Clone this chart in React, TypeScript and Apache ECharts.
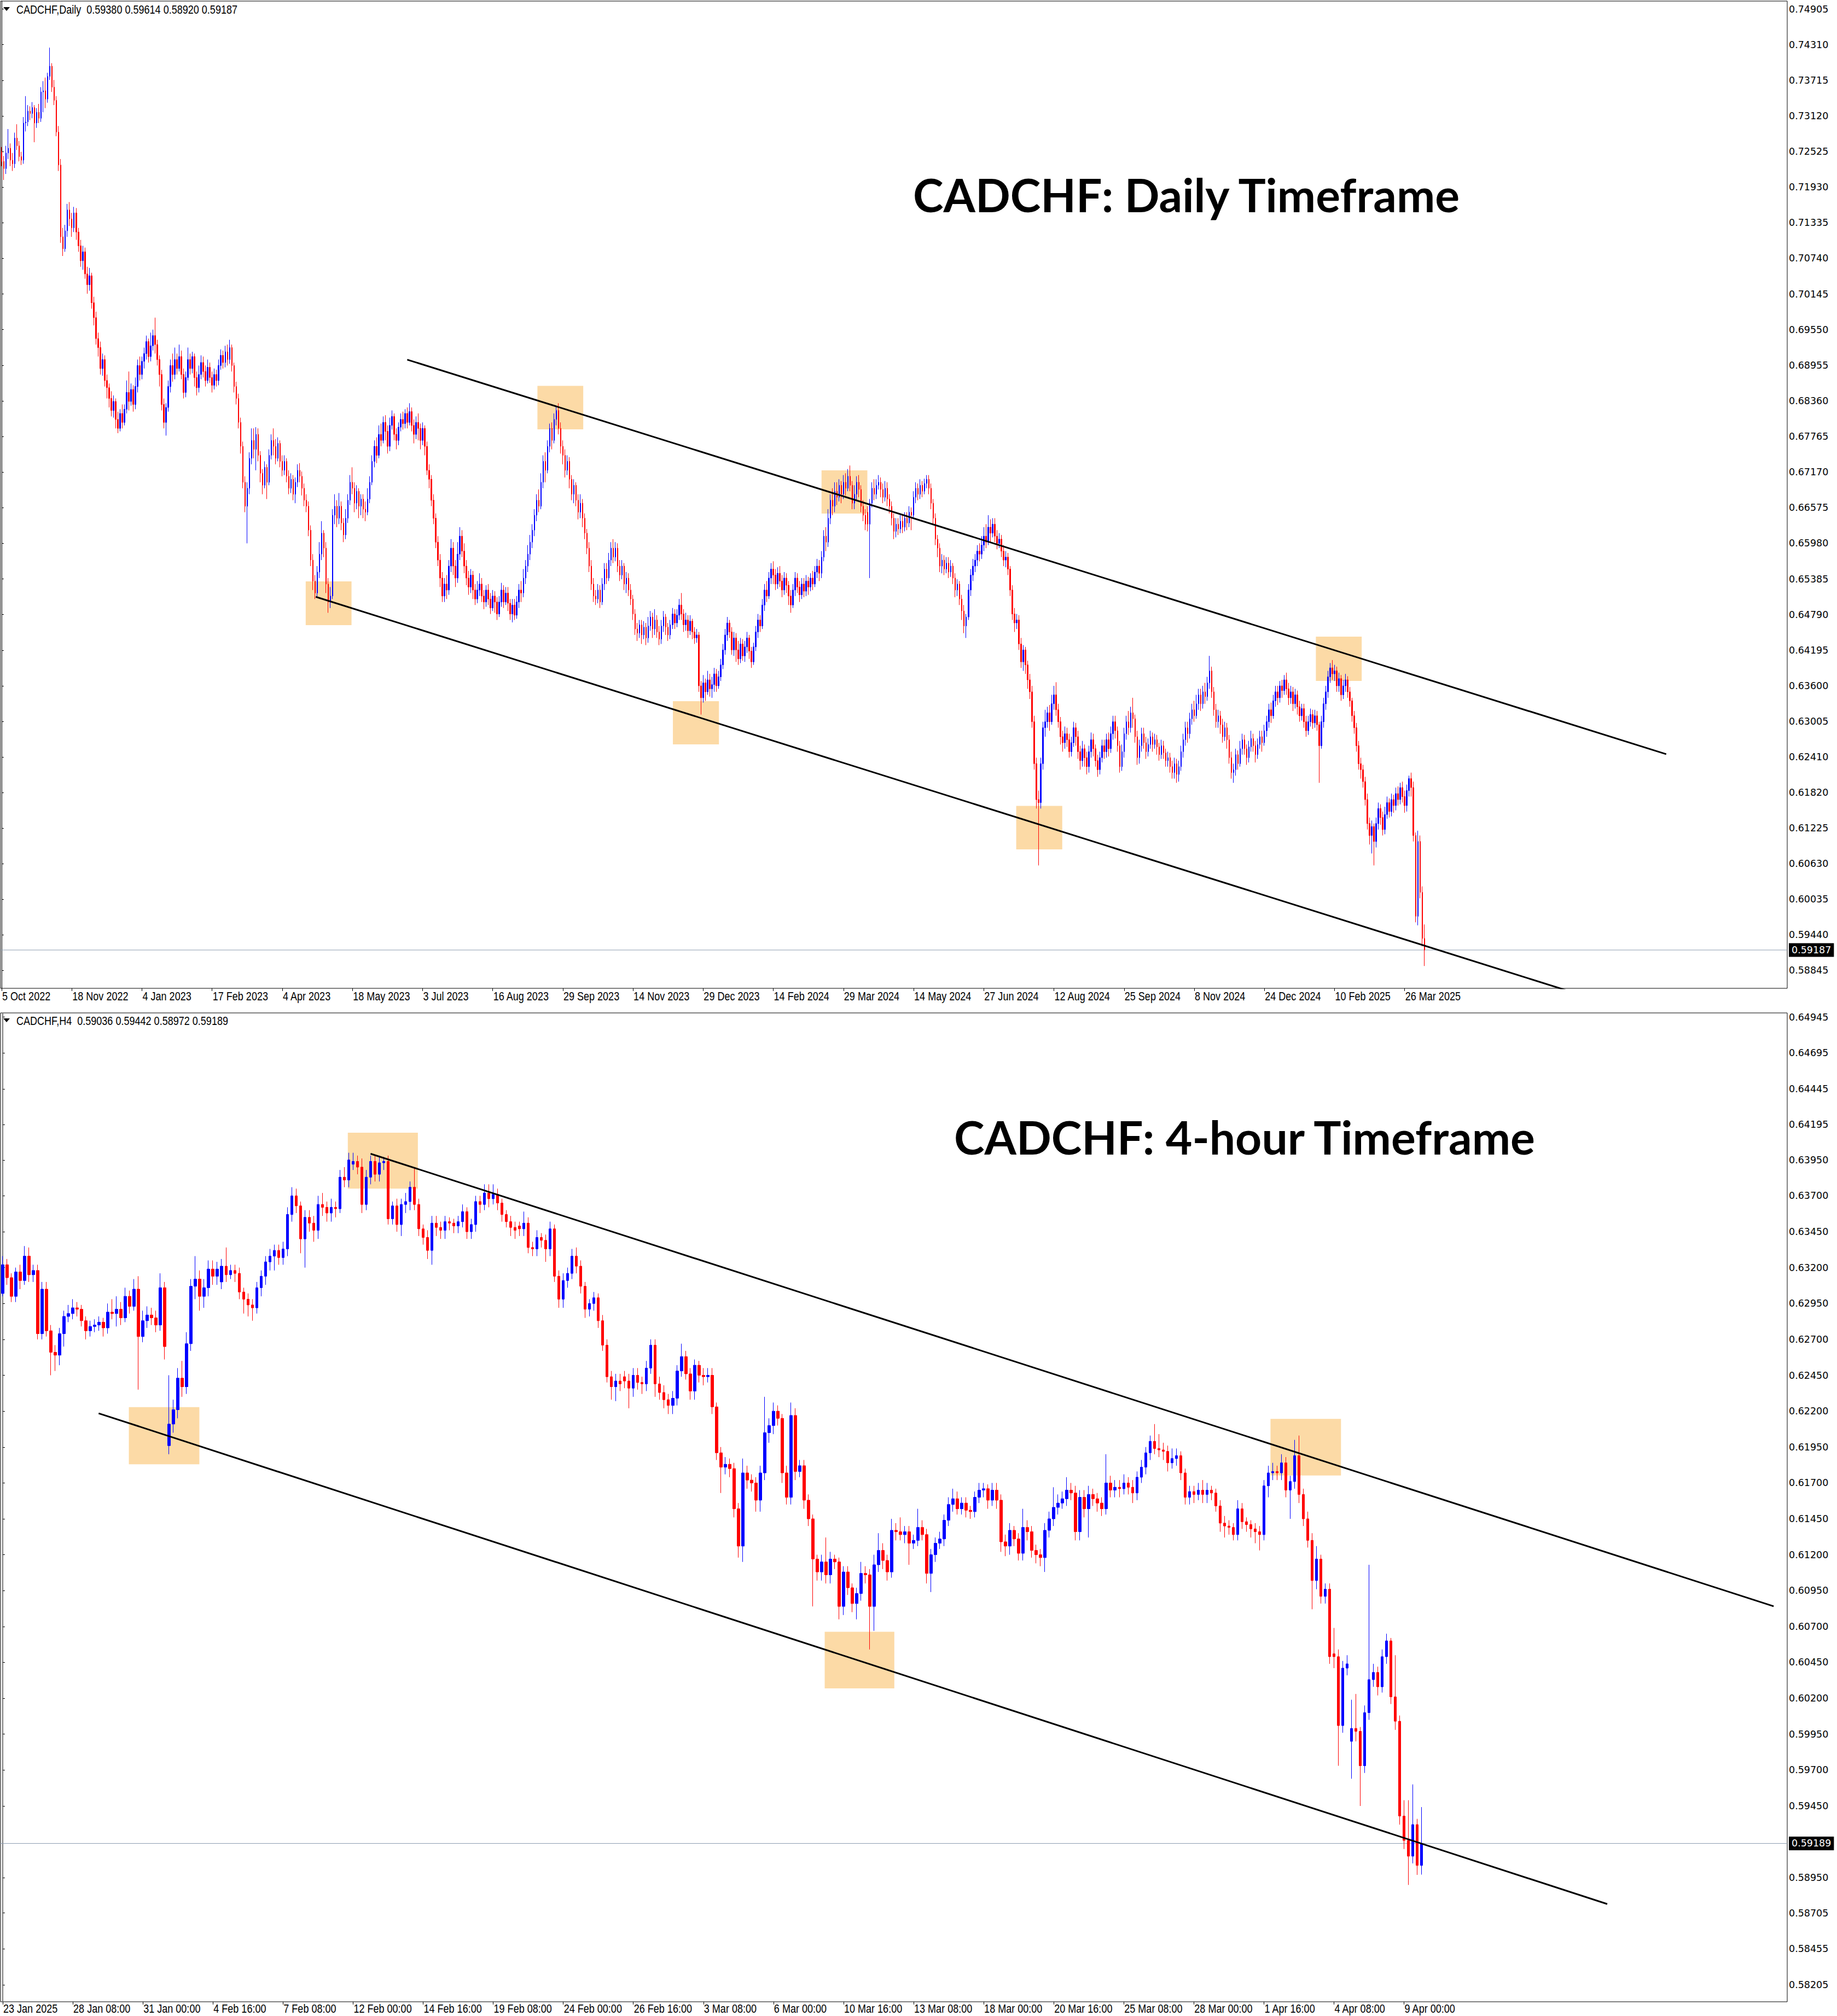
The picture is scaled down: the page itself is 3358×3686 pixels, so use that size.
import React, { useEffect, useRef } from "react";
import * as echarts from "echarts";

// ---------------- tick labels ----------------
const dailyPriceTicks = [0.74905, 0.7431, 0.73715, 0.7312, 0.72525, 0.7193, 0.71335, 0.7074, 0.70145, 0.6955, 0.68955, 0.6836, 0.67765, 0.6717, 0.66575, 0.6598, 0.65385, 0.6479, 0.64195, 0.636, 0.63005, 0.6241, 0.6182, 0.61225, 0.6063, 0.60035, 0.5944, 0.58845];
const h4PriceTicks = [0.64945, 0.64695, 0.64445, 0.64195, 0.6395, 0.637, 0.6345, 0.632, 0.6295, 0.627, 0.6245, 0.622, 0.6195, 0.617, 0.6145, 0.612, 0.6095, 0.607, 0.6045, 0.602, 0.5995, 0.597, 0.5945, 0.5895, 0.58705, 0.58455, 0.58205];
const dailyDateLabels = ["5 Oct 2022", "18 Nov 2022", "4 Jan 2023", "17 Feb 2023", "4 Apr 2023", "18 May 2023", "3 Jul 2023", "16 Aug 2023", "29 Sep 2023", "14 Nov 2023", "29 Dec 2023", "14 Feb 2024", "29 Mar 2024", "14 May 2024", "27 Jun 2024", "12 Aug 2024", "25 Sep 2024", "8 Nov 2024", "24 Dec 2024", "10 Feb 2025", "26 Mar 2025"];
const h4DateLabels = ["23 Jan 2025", "28 Jan 08:00", "31 Jan 00:00", "4 Feb 16:00", "7 Feb 08:00", "12 Feb 00:00", "14 Feb 16:00", "19 Feb 08:00", "24 Feb 00:00", "26 Feb 16:00", "3 Mar 08:00", "6 Mar 00:00", "10 Mar 16:00", "13 Mar 08:00", "18 Mar 00:00", "20 Mar 16:00", "25 Mar 08:00", "28 Mar 00:00", "1 Apr 16:00", "4 Apr 08:00", "9 Apr 00:00"];
const DAILY_LABEL_STEP = 32;
const H4_LABEL_STEP = 16;

// ---------------- daily candles [open, close, low, high] in 1e-4 units ----------------
const dailyBars2022 = [
[7252,7236,7228,7260],[7236,7224,7205,7245],[7224,7250,7215,7262],[7250,7258,7240,7290],[7258,7238,7228,7266],[7238,7232,7220,7250],[7232,7275,7225,7284],[7275,7262,7255,7298],[7262,7244,7236,7270],[7244,7238,7230,7252],
[7238,7300,7232,7310],[7300,7302,7286,7345],[7302,7320,7295,7330],[7320,7316,7305,7328],[7316,7326,7308,7335],[7326,7300,7268,7330],[7300,7318,7292,7325],[7318,7308,7300,7332],[7308,7352,7302,7360],[7352,7354,7318,7370],
[7354,7340,7325,7376],[7340,7378,7334,7384],[7378,7395,7372,7426],[7395,7360,7352,7400],[7360,7338,7330,7372],[7338,7285,7278,7345],[7285,7230,7220,7295],[7230,7110,7100,7240],[7110,7090,7078,7125],[7090,7120,7085,7130],
[7120,7155,7110,7165],[7155,7140,7128,7168],[7140,7125,7110,7150],[7125,7150,7118,7160],[7150,7118,7105,7158],[7118,7095,7085,7125],[7095,7070,7060,7105],[7070,7085,7055,7095],[7085,7048,7040,7092],[7048,7030,7015,7060],
[7030,7045,7020,7058],[7045,7000,6990,7050],[7000,6975,6962,7010],[6975,6940,6930,6985],[6940,6925,6910,6950],[6925,6890,6880,6935],[6890,6905,6878,6915],[6905,6870,6860,6912],[6870,6858,6840,6880],[6858,6840,6825,6865],
[6840,6820,6810,6852],[6820,6835,6808,6845],[6835,6805,6790,6840],[6805,6790,6782,6818],[6790,6815,6785,6822],[6815,6800,6790,6830],[6800,6822,6795,6830],[6822,6850,6815,6870],[6850,6835,6820,6885],[6835,6855,6828,6865],
[6855,6830,6818,6862],[6830,6860,6822,6875],[6860,6895,6850,6905],[6895,6880,6870,6910],
];
const dailyBars2023 = [
[6880,6902,6872,6910],[6902,6915,6890,6925],[6915,6935,6905,6945],[6935,6910,6900,6940],[6910,6928,6902,6950],[6928,6945,6920,6955],[6945,6930,6915,6975],[6930,6905,6895,6938],[6905,6880,6860,6912],[6880,6830,6820,6888],
[6830,6800,6790,6840],[6800,6825,6778,6832],[6825,6860,6818,6870],[6860,6895,6850,6905],[6895,6880,6868,6915],[6880,6905,6872,6925],[6905,6890,6880,6915],[6890,6910,6885,6930],[6910,6880,6872,6920],[6880,6850,6840,6890],
[6850,6875,6842,6885],[6875,6905,6870,6925],[6905,6890,6880,6915],[6890,6910,6882,6918],[6910,6875,6860,6915],[6875,6858,6845,6885],[6858,6880,6850,6895],[6880,6900,6872,6912],[6900,6885,6875,6910],[6885,6870,6860,6895],
[6870,6892,6865,6905],[6892,6875,6866,6900],[6875,6862,6850,6885],[6862,6880,6855,6890],[6880,6870,6860,6888],[6870,6895,6862,6905],[6895,6912,6888,6922],[6912,6900,6890,6920],[6900,6918,6892,6928],[6918,6905,6895,6930],
[6905,6925,6898,6938],[6925,6895,6885,6930],[6895,6860,6850,6900],[6860,6840,6830,6868],[6840,6800,6790,6848],[6800,6760,6748,6808],[6760,6700,6690,6768],[6700,6660,6650,6710],[6660,6690,6598,6700],[6690,6740,6680,6750],
[6740,6770,6730,6790],[6770,6755,6740,6790],[6755,6780,6720,6792],[6780,6745,6735,6790],[6745,6715,6700,6752],[6715,6695,6680,6722],[6695,6725,6690,6735],[6725,6700,6672,6730],[6700,6745,6695,6755],[6745,6770,6738,6780],
[6770,6760,6745,6790],[6760,6740,6730,6772],[6740,6765,6735,6775],[6765,6735,6725,6770],[6735,6720,6710,6745],[6720,6735,6712,6745],[6735,6710,6700,6740],[6710,6690,6680,6720],[6690,6705,6682,6715],[6705,6680,6670,6712],
[6680,6700,6665,6708],[6700,6720,6692,6730],[6720,6710,6700,6732],[6710,6690,6678,6718],[6690,6670,6660,6698],[6670,6660,6650,6680],[6660,6620,6610,6668],[6620,6570,6560,6628],[6570,6535,6520,6580],[6535,6515,6505,6545],
[6515,6550,6508,6560],[6550,6580,6540,6600],[6580,6615,6570,6635],[6615,6590,6575,6620],[6590,6530,6515,6600],[6530,6500,6482,6540],[6500,6510,6490,6525],[6510,6645,6505,6655],[6645,6660,6630,6680],[6660,6640,6625,6670],
[6640,6660,6630,6682],[6660,6632,6620,6668],[6632,6612,6600,6640],[6612,6640,6605,6655],[6640,6670,6632,6680],[6670,6700,6662,6712],[6700,6690,6680,6725],[6690,6665,6650,6700],[6665,6685,6655,6695],[6685,6660,6640,6690],
[6660,6672,6645,6680],[6672,6655,6640,6680],[6655,6650,6635,6668],[6650,6672,6645,6690],[6672,6700,6665,6710],[6700,6735,6695,6745],[6735,6760,6725,6770],[6760,6745,6732,6775],[6745,6780,6740,6795],[6780,6770,6760,6798],
[6770,6800,6765,6810],[6800,6785,6770,6812],[6785,6760,6748,6795],[6760,6795,6752,6808],[6795,6810,6788,6820],[6810,6780,6770,6815],[6780,6770,6755,6790],[6770,6792,6762,6800],[6792,6805,6785,6815],[6805,6798,6788,6818],
[6798,6815,6790,6822],[6815,6800,6790,6825],[6800,6818,6795,6832],[6818,6795,6785,6825],[6795,6780,6765,6805],[6780,6800,6772,6810],[6800,6790,6770,6815],[6790,6770,6755,6798],[6770,6790,6762,6800],[6790,6760,6745,6795],
[6760,6720,6712,6768],[6720,6705,6690,6730],[6705,6670,6660,6712],[6670,6640,6630,6680],[6640,6600,6590,6648],[6600,6570,6560,6610],[6570,6540,6525,6580],[6540,6510,6500,6550],[6510,6530,6500,6540],[6530,6520,6505,6545],
[6520,6560,6512,6570],[6560,6590,6550,6605],[6590,6560,6545,6600],[6560,6540,6525,6570],[6540,6580,6532,6600],[6580,6610,6570,6625],[6610,6585,6575,6620],[6585,6560,6548,6598],[6560,6540,6528,6570],[6540,6525,6512,6552],
[6525,6545,6515,6555],[6545,6520,6505,6552],[6520,6505,6495,6530],[6505,6520,6498,6535],[6520,6530,6510,6548],[6530,6510,6500,6540],[6510,6500,6488,6520],[6500,6520,6492,6528],[6520,6505,6495,6530],[6505,6490,6480,6515],
[6490,6510,6485,6520],[6510,6500,6482,6518],[6500,6480,6470,6508],[6480,6500,6475,6510],[6500,6520,6492,6532],[6520,6500,6490,6528],[6500,6515,6495,6525],[6515,6498,6485,6525],[6498,6480,6470,6505],[6480,6495,6466,6505],
[6495,6478,6470,6505],[6478,6500,6472,6510],[6500,6520,6490,6530],[6520,6515,6500,6535],[6515,6540,6508,6555],[6540,6560,6530,6570],[6560,6580,6550,6595],[6580,6600,6570,6612],[6600,6620,6590,6630],[6620,6645,6610,6655],
[6645,6670,6635,6680],[6670,6660,6650,6688],[6660,6700,6655,6715],[6700,6735,6690,6745],[6735,6720,6700,6750],[6720,6760,6715,6770],[6760,6790,6750,6798],[6790,6770,6755,6800],[6770,6805,6765,6815],[6805,6820,6795,6828],
[6820,6790,6780,6832],[6790,6760,6748,6800],[6760,6745,6730,6770],[6745,6720,6708,6755],[6720,6735,6712,6745],[6735,6705,6690,6742],[6705,6680,6670,6712],[6680,6695,6665,6705],[6695,6670,6660,6700],[6670,6650,6638,6680],
[6650,6665,6640,6680],[6665,6640,6625,6672],[6640,6615,6605,6648],[6615,6590,6580,6622],[6590,6560,6550,6600],[6560,6530,6520,6570],[6530,6510,6500,6540],[6510,6505,6495,6520],[6505,6520,6498,6530],[6520,6500,6490,6528],
[6500,6530,6495,6540],[6530,6555,6520,6565],[6555,6540,6530,6565],[6540,6570,6535,6582],[6570,6590,6560,6600],[6590,6575,6565,6605],[6575,6590,6568,6600],[6590,6560,6550,6598],[6560,6545,6535,6570],[6545,6560,6538,6570],
[6560,6530,6520,6565],[6530,6540,6515,6550],[6540,6520,6510,6548],[6520,6505,6495,6530],[6505,6480,6470,6512],[6480,6455,6445,6488],[6455,6448,6435,6465],[6448,6462,6440,6470],[6462,6445,6430,6470],[6445,6458,6438,6468],
[6458,6440,6428,6465],[6440,6460,6432,6475],[6460,6475,6452,6485],[6475,6455,6440,6482],[6455,6470,6445,6488],[6470,6450,6440,6478],[6450,6438,6428,6460],[6438,6460,6430,6470],[6460,6475,6450,6485],[6475,6458,6445,6480],
[6458,6445,6435,6465],[6445,6462,6438,6470],[6462,6480,6455,6490],[6480,6465,6455,6488],[6465,6478,6458,6488],[6478,6495,6470,6505],[6495,6480,6470,6515],[6480,6462,6450,6488],[6462,6470,6452,6482],[6470,6452,6440,6478],
[6452,6468,6445,6478],[6468,6450,6438,6472],[6450,6440,6430,6458],[6440,6445,6432,6455],
];
const dailyBars2024 = [
[6445,6360,6350,6450],[6360,6340,6312,6368],[6340,6365,6332,6378],[6365,6350,6335,6372],[6350,6370,6345,6385],[6370,6355,6342,6380],[6355,6362,6340,6375],[6362,6380,6350,6390],[6380,6360,6350,6388],[6360,6375,6355,6385],
[6375,6395,6368,6405],[6395,6420,6388,6430],[6420,6445,6412,6455],[6445,6465,6435,6475],[6465,6450,6440,6470],[6450,6420,6412,6458],[6420,6440,6410,6450],[6440,6420,6400,6448],[6420,6405,6395,6435],[6405,6430,6398,6440],
[6430,6410,6402,6438],[6410,6425,6400,6435],[6425,6440,6415,6450],[6440,6418,6405,6445],[6418,6400,6390,6425],[6400,6425,6395,6432],[6425,6450,6418,6460],[6450,6470,6440,6480],[6470,6460,6450,6478],[6460,6495,6455,6505],
[6495,6520,6485,6530],[6520,6510,6500,6535],[6510,6540,6505,6550],[6540,6555,6530,6565],[6555,6545,6530,6568],[6545,6530,6520,6555],[6530,6548,6522,6558],[6548,6535,6525,6560],[6535,6520,6508,6545],[6520,6540,6512,6550],
[6540,6528,6515,6548],[6528,6510,6495,6535],[6510,6495,6482,6520],[6495,6520,6490,6530],[6520,6540,6510,6550],[6540,6525,6515,6548],[6525,6512,6500,6535],[6512,6530,6505,6540],[6530,6518,6508,6540],[6518,6535,6510,6545],
[6535,6525,6512,6542],[6525,6540,6518,6548],[6540,6530,6520,6552],[6530,6550,6525,6560],[6550,6560,6540,6572],[6560,6548,6535,6570],[6548,6575,6540,6585],[6575,6610,6568,6620],[6610,6600,6585,6625],[6600,6640,6592,6655],
[6640,6670,6630,6680],[6670,6660,6645,6690],[6660,6685,6650,6700],[6685,6675,6662,6700],[6675,6695,6668,6705],[6695,6680,6665,6702],[6680,6700,6672,6712],[6700,6690,6678,6715],[6690,6710,6685,6722],[6710,6695,6685,6728],
[6695,6665,6655,6702],[6665,6680,6655,6695],[6680,6700,6670,6710],[6700,6688,6675,6712],[6688,6660,6650,6695],[6660,6645,6635,6670],[6645,6630,6620,6655],[6650,6630,6618,6660],[6630,6665,6540,6672],[6665,6690,6658,6700],
[6690,6680,6670,6705],[6680,6695,6672,6705],[6695,6700,6688,6712],[6700,6688,6675,6708],[6688,6675,6665,6698],[6675,6690,6668,6702],[6690,6672,6660,6700],[6672,6660,6648,6680],[6660,6640,6628,6668],[6640,6618,6605,6648],
[6618,6630,6608,6640],[6630,6622,6612,6640],[6622,6635,6615,6645],[6635,6625,6615,6645],[6625,6640,6618,6650],[6640,6632,6620,6650],[6632,6650,6625,6660],[6650,6645,6620,6658],[6645,6675,6640,6685],[6675,6690,6665,6700],
[6690,6680,6670,6698],[6680,6695,6672,6705],[6695,6685,6675,6702],[6685,6698,6680,6706],[6698,6705,6690,6712],[6705,6690,6680,6712],[6690,6665,6655,6698],[6665,6640,6630,6672],[6640,6605,6595,6648],[6605,6590,6575,6612],
[6590,6560,6550,6598],[6560,6570,6548,6580],[6570,6555,6545,6578],[6555,6565,6548,6575],[6565,6550,6540,6575],[6550,6560,6542,6570],[6560,6540,6530,6565],[6540,6520,6508,6548],[6520,6530,6510,6538],[6530,6505,6495,6535],
[6505,6485,6470,6512],[6485,6460,6448,6495],[6460,6475,6440,6480],[6475,6520,6470,6530],[6520,6545,6510,6555],[6545,6560,6535,6572],[6560,6570,6550,6580],[6570,6585,6560,6595],[6585,6580,6568,6598],[6580,6595,6572,6610],
[6595,6610,6585,6625],[6610,6600,6590,6630],[6600,6625,6595,6645],[6625,6615,6600,6638],[6615,6630,6608,6640],[6630,6610,6600,6640],[6610,6598,6588,6620],[6598,6605,6590,6615],[6605,6585,6575,6612],[6585,6570,6560,6595],
[6570,6575,6558,6585],[6575,6555,6545,6582],[6555,6520,6510,6560],[6520,6480,6470,6528],[6480,6465,6450,6490],[6465,6470,6455,6480],[6470,6430,6420,6478],[6430,6400,6390,6440],[6400,6420,6385,6428],[6420,6395,6380,6425],
[6395,6370,6355,6402],[6370,6350,6338,6380],[6350,6300,6290,6360],[6300,6230,6220,6310],[6230,6170,6155,6240],[6170,6165,6060,6185],[6165,6230,6155,6240],[6230,6290,6220,6300],[6290,6300,6275,6320],[6300,6315,6290,6325],
[6315,6300,6285,6328],[6300,6330,6295,6345],[6330,6345,6320,6360],[6345,6320,6310,6366],[6320,6300,6290,6330],[6300,6275,6262,6308],[6275,6265,6250,6285],[6265,6280,6255,6292],[6280,6270,6258,6290],[6270,6250,6240,6280],
[6250,6265,6242,6275],[6265,6290,6258,6300],[6290,6275,6260,6298],[6275,6250,6238,6285],[6250,6235,6220,6260],[6235,6255,6225,6268],[6255,6240,6225,6262],[6240,6225,6212,6250],[6225,6250,6215,6260],[6250,6270,6240,6282],
[6270,6255,6242,6280],[6255,6235,6225,6262],[6235,6220,6208,6245],[6220,6240,6212,6250],[6240,6260,6232,6270],[6260,6250,6238,6270],[6250,6270,6240,6280],[6270,6255,6242,6282],[6255,6280,6248,6292],[6280,6300,6270,6310],
[6300,6285,6272,6310],[6285,6260,6250,6292],[6260,6225,6215,6268],[6225,6250,6218,6262],[6250,6280,6240,6290],[6280,6300,6270,6310],[6300,6290,6278,6318],[6290,6315,6282,6325],[6315,6305,6290,6340],[6305,6275,6265,6312],
[6275,6240,6228,6285],[6240,6260,6230,6270],[6260,6280,6250,6290],[6280,6265,6255,6290],[6265,6250,6238,6275],[6250,6262,6242,6272],[6262,6275,6255,6285],[6275,6262,6250,6282],[6262,6270,6255,6280],[6270,6258,6245,6278],
[6258,6245,6235,6265],[6245,6260,6238,6270],[6260,6248,6238,6268],[6248,6235,6225,6255],[6235,6240,6225,6250],[6240,6225,6215,6248],[6225,6215,6205,6235],[6215,6230,6205,6240],[6230,6212,6198,6238],[6212,6225,6200,6235],
[6225,6250,6218,6260],[6250,6270,6240,6280],[6270,6290,6260,6300],[6290,6280,6265,6300],[6280,6305,6272,6315],[6305,6320,6295,6330],[6320,6310,6300,6335],[6310,6330,6305,6345],[6330,6345,6320,6355],[6345,6330,6318,6355],
[6330,6350,6322,6360],[6350,6342,6330,6365],[6342,6365,6335,6375],[6365,6385,6355,6410],[6385,6350,6340,6392],[6350,6320,6310,6358],[6320,6300,6290,6330],[6300,6310,6290,6320],[6310,6295,6280,6318],[6295,6275,6265,6305],
[6275,6290,6268,6300],[6290,6270,6255,6298],[6270,6240,6230,6278],[6240,6215,6205,6250],[6215,6220,6198,6230],[6220,6245,6210,6255],[6245,6230,6220,6252],
];
const dailyBars2025 = [
[6230,6255,6225,6268],[6255,6270,6245,6280],[6270,6255,6245,6278],[6255,6240,6228,6262],[6240,6258,6232,6268],[6258,6272,6250,6285],[6272,6260,6250,6280],[6260,6245,6232,6268],[6245,6262,6238,6272],[6262,6275,6255,6285],
[6275,6265,6250,6285],[6265,6285,6260,6295],[6285,6300,6275,6310],[6300,6320,6290,6330],[6320,6310,6298,6332],[6310,6335,6305,6345],[6335,6350,6325,6360],[6350,6340,6328,6360],[6340,6360,6332,6368],[6360,6352,6340,6370],
[6352,6370,6345,6378],[6370,6355,6345,6382],[6355,6340,6328,6365],[6340,6350,6330,6360],[6350,6330,6318,6358],[6330,6345,6322,6355],[6345,6325,6312,6352],[6325,6310,6300,6335],[6310,6322,6302,6330],[6322,6300,6290,6330],
[6300,6285,6275,6310],[6285,6300,6278,6310],[6300,6312,6292,6322],[6312,6298,6288,6320],[6298,6310,6290,6320],[6310,6295,6285,6318],[6295,6260,6198,6300],[6260,6300,6255,6310],[6300,6330,6290,6340],[6330,6350,6320,6360],
[6350,6375,6340,6385],[6375,6390,6365,6398],[6390,6380,6370,6403],[6380,6385,6368,6395],[6385,6360,6350,6392],[6360,6372,6350,6382],[6372,6345,6335,6378],[6345,6360,6338,6370],[6360,6370,6350,6380],[6370,6350,6340,6376],
[6350,6335,6325,6358],[6335,6310,6300,6340],[6310,6290,6280,6318],[6290,6260,6250,6298],[6260,6230,6220,6268],[6230,6220,6205,6240],[6220,6200,6190,6228],[6200,6170,6160,6208],[6170,6130,6120,6180],[6130,6110,6095,6140],
[6110,6125,6080,6135],[6125,6100,6060,6130],[6100,6130,6090,6140],[6130,6155,6120,6165],[6155,6140,6128,6162],[6140,6120,6110,6150],[6120,6145,6112,6158],[6145,6165,6138,6175],[6165,6150,6140,6172],[6150,6170,6142,6180],
[6170,6160,6148,6178],[6160,6180,6152,6190],[6180,6170,6160,6192],[6170,6190,6162,6198],[6190,6175,6165,6200],[6175,6160,6148,6185],[6160,6185,6150,6195],[6185,6205,6175,6210],[6205,6190,6175,6215],[6190,6110,6100,6200],
[6110,5975,5965,6115],[5975,6100,5960,6118],[6100,6015,6005,6110],[6015,5938,5925,6025],[5938,5918.7,5892,5961.4],
];

// ---------------- H4 candles [open, close, low, high] in 1e-4 units ----------------
const h4BarsJanFeb = [
[6302,6322,6300,6328],[6322,6313,6308,6326],[6313,6300,6296,6316],[6300,6317,6296,6320],[6317,6311,6305,6322],[6311,6328,6308,6335],[6328,6315,6310,6334],[6315,6318,6310,6322],[6318,6274,6270,6322],[6274,6305,6270,6310],
[6305,6276,6272,6310],[6276,6261,6245,6280],[6261,6259,6248,6266],[6259,6274,6252,6278],[6274,6286,6265,6290],[6286,6288,6282,6294],[6288,6292,6284,6298],[6292,6291,6286,6296],[6291,6283,6279,6294],[6283,6276,6270,6286],
[6276,6279,6272,6283],[6279,6280,6275,6284],[6280,6282,6276,6286],[6282,6278,6272,6285],[6278,6289,6274,6295],[6289,6288,6284,6298],[6288,6291,6279,6300],[6291,6285,6280,6296],[6285,6300,6282,6306],[6300,6293,6288,6304],
[6293,6305,6290,6312],[6305,6272,6235,6314],[6272,6283,6268,6290],[6283,6287,6278,6293],[6287,6285,6280,6292],[6285,6280,6275,6290],[6280,6306,6276,6316],[6306,6265,6256,6310],[6196,6211,6190,6245],[6211,6221,6205,6228],
[6221,6243,6215,6250],[6243,6237,6230,6255],[6237,6267,6232,6275],[6267,6307,6262,6312],[6307,6312,6298,6328],[6312,6300,6290,6318],[6300,6306,6292,6312],[6306,6319,6300,6325],[6319,6314,6308,6325],[6314,6319,6308,6324],
[6310,6321,6305,6326],[6321,6315,6310,6334],[6315,6318,6312,6322],[6318,6316,6310,6322],[6316,6303,6298,6320],[6303,6298,6288,6306],[6298,6294,6286,6302],[6294,6292,6283,6298],[6292,6306,6288,6310],[6306,6314,6300,6318],
[6314,6324,6308,6328],[6324,6328,6318,6333],[6328,6332,6318,6336],[6332,6327,6322,6336],[6327,6333,6322,6338],[6333,6357,6328,6362],[6357,6370,6352,6376],[6370,6363,6358,6375],[6363,6340,6330,6366],[6340,6355,6320,6360],
[6355,6351,6345,6360],[6351,6346,6338,6356],[6346,6364,6340,6370],[6364,6362,6356,6372],[6362,6358,6352,6366],[6358,6362,6352,6368],[6362,6361,6355,6366],[6361,6383,6358,6388],[6383,6381,6376,6390],[6381,6395,6376,6400],
[6392,6394,6388,6400],[6394,6390,6385,6398],[6390,6364,6358,6396],[6364,6383,6360,6388],[6383,6394,6378,6398],[6394,6385,6380,6398],[6385,6393,6380,6398],[6393,6394,6388,6397],[6394,6354,6350,6398],[6354,6363,6350,6366],
[6363,6350,6345,6368],[6350,6364,6342,6368],[6364,6366,6358,6372],[6366,6376,6360,6380],[6376,6364,6360,6389],[6364,6347,6342,6368],[6347,6341,6336,6350],[6341,6332,6326,6346],[6332,6351,6322,6356],[6351,6348,6342,6356],
[6348,6346,6340,6352],[6346,6352,6340,6356],[6352,6351,6346,6355],[6351,6349,6344,6354],[6349,6352,6344,6356],[6352,6359,6348,6364],[6359,6345,6340,6362],[6345,6350,6340,6354],[6350,6366,6345,6370],[6366,6364,6358,6370],
[6364,6372,6360,6378],[6372,6368,6362,6378],[6368,6371,6364,6378],[6371,6365,6360,6375],[6365,6357,6352,6368],[6357,6352,6348,6360],[6352,6348,6342,6356],[6348,6346,6340,6352],[6349,6347,6342,6352],[6347,6351,6342,6359],
];
const h4BarsMar = [
[6351,6334,6330,6355],[6334,6333,6328,6338],[6333,6341,6328,6346],[6341,6339,6334,6344],[6339,6333,6324,6343],[6333,6347,6328,6352],[6347,6314,6310,6350],[6314,6298,6292,6318],[6298,6311,6292,6316],[6311,6316,6306,6320],
[6316,6328,6312,6333],[6328,6321,6316,6334],[6321,6307,6302,6325],[6307,6291,6285,6310],[6291,6295,6286,6298],[6295,6299,6290,6303],[6299,6283,6278,6302],[6283,6266,6262,6287],[6266,6244,6240,6270],[6244,6237,6228,6248],
[6237,6241,6227,6246],[6241,6239,6234,6246],[6244,6241,6236,6248],[6241,6236,6222,6246],[6236,6245,6230,6250],[6245,6240,6235,6250],[6240,6239,6232,6244],[6239,6250,6234,6255],[6250,6266,6246,6270],[6266,6239,6230,6270],
[6239,6233,6228,6244],[6233,6228,6222,6238],[6228,6224,6218,6232],[6224,6229,6218,6234],[6229,6248,6224,6252],[6248,6258,6244,6267],[6258,6246,6242,6262],[6246,6234,6228,6250],[6234,6252,6228,6256],[6252,6245,6240,6255],
[6245,6244,6238,6250],[6244,6245,6240,6250],[6245,6223,6218,6250],[6223,6191,6186,6226],[6191,6181,6163,6195],[6181,6183,6176,6188],[6183,6180,6174,6187],[6180,6152,6146,6184],[6152,6126,6118,6156],[6126,6177,6115,6187],
[6177,6172,6166,6182],[6172,6170,6164,6176],[6170,6158,6150,6174],[6158,6177,6150,6182],[6177,6205,6172,6230],[6205,6210,6198,6215],[6210,6220,6204,6226],[6220,6215,6210,6224],[6215,6177,6170,6218],[6177,6160,6155,6182],
[6160,6217,6155,6226],[6217,6178,6172,6222],[6178,6182,6174,6186],[6182,6158,6152,6186],[6158,6145,6140,6162],[6145,6117,6084,6148],[6117,6108,6102,6120],[6108,6115,6102,6120],[6115,6106,6100,6132],[6106,6117,6100,6122],
[6117,6115,6110,6120],[6115,6084,6075,6118],[6084,6108,6078,6112],[6108,6097,6092,6112],[6097,6086,6080,6100],[6086,6093,6075,6097],[6093,6107,6088,6115],[6107,6106,6100,6112],[6106,6084,6054,6110],[6084,6113,6067,6120],
[6113,6123,6108,6135],[6123,6116,6110,6128],[6116,6108,6102,6120],[6108,6137,6104,6145],[6137,6136,6130,6142],[6136,6134,6130,6146],[6134,6136,6128,6140],[6136,6128,6113,6140],[6128,6130,6124,6134],[6130,6139,6126,6152],
[6139,6134,6130,6144],[6134,6107,6100,6138],[6107,6120,6094,6124],[6120,6128,6115,6132],[6128,6131,6124,6136],[6131,6144,6126,6148],[6144,6155,6140,6160],[6155,6159,6150,6166],[6159,6152,6148,6164],[6152,6156,6148,6160],
[6156,6151,6146,6160],[6151,6150,6145,6154],[6150,6160,6146,6164],[6160,6165,6156,6170],[6165,6166,6160,6170],[6166,6158,6152,6169],[6158,6165,6154,6170],[6165,6158,6152,6170],[6158,6129,6122,6162],[6129,6126,6119,6134],
[6126,6137,6120,6142],[6137,6131,6126,6140],[6131,6121,6116,6135],[6121,6139,6116,6152],[6139,6136,6130,6144],[6136,6123,6118,6140],[6123,6120,6114,6127],[6120,6118,6112,6124],[6118,6137,6108,6142],[6137,6145,6132,6150],
[6145,6153,6140,6167],[6153,6156,6148,6162],[6156,6159,6152,6164],[6159,6165,6154,6174],[6165,6163,6158,6170],[6163,6136,6130,6168],[6136,6160,6130,6165],[6160,6152,6146,6165],[6152,6162,6132,6168],[6162,6159,6154,6166],
[6159,6156,6150,6163],[6156,6152,6147,6160],[6152,6170,6148,6190],[6170,6165,6160,6175],[6165,6167,6160,6172],[6167,6166,6160,6172],[6166,6170,6162,6176],[6170,6167,6162,6174],[6167,6163,6156,6172],[6163,6174,6158,6178],
[6174,6181,6170,6186],[6181,6191,6176,6195],[6191,6199,6186,6203],[6199,6194,6190,6211],[6194,6193,6188,6204],[6193,6192,6186,6198],[6192,6184,6178,6196],[6184,6187,6180,6194],
];
const h4BarsApr = [
[6187,6189,6182,6194],[6189,6177,6172,6192],[6177,6160,6155,6180],[6160,6164,6155,6168],[6164,6162,6156,6168],[6162,6165,6158,6170],[6165,6162,6156,6172],[6162,6165,6156,6170],[6165,6163,6158,6168],[6163,6154,6150,6166],
[6154,6142,6136,6158],[6142,6140,6132,6147],[6140,6139,6134,6144],[6139,6134,6130,6142],[6134,6152,6130,6158],[6152,6143,6138,6156],[6143,6141,6136,6146],[6141,6138,6132,6144],[6138,6136,6128,6142],[6136,6134,6123,6140],
[6134,6168,6130,6172],[6168,6177,6160,6182],[6177,6178,6172,6184],[6178,6177,6172,6182],[6177,6184,6172,6190],[6184,6165,6160,6188],[6165,6171,6145,6175],[6171,6189,6166,6200],[6189,6162,6156,6203],[6162,6145,6140,6166],
[6145,6130,6125,6150],[6130,6102,6082,6135],[6102,6117,6096,6126],[6117,6091,6086,6120],[6091,6096,6086,6100],[6096,6049,6044,6100],[6051,6049,6041,6069],[6049,6001,5973,6054],[6001,6041,5996,6046],[6041,6044,6036,6050],
[5990,5999,5964,6019],[5999,5997,5990,6023],[5997,5973,5945,6000],[5973,6010,5968,6015],[6010,6033,6005,6113],[6033,6038,6028,6044],[6038,6028,6022,6042],[6028,6049,6024,6054],[6049,6060,6044,6065],[6060,6021,6016,6062],
[6021,6004,5998,6050],[6004,5938,5932,6008],[5938,5921,5915,5949],[5921,5910,5890,5949],[5910,5932,5905,5960],[5932,5903.6,5897,5936],[5903.6,5918.9,5897.2,5944.2],
];

// ---------------- annotations ----------------
// trend lines: [barIndex, price]
const dailyUpperLine = [[185, 0.69048], [759.3, 0.62459]];
const dailyLowerLine = [[143.3, 0.65086], [713.4, 0.58518]];
const h4UpperLine = [[84, 0.63993], [404.4, 0.60841]];
const h4LowerLine = [[21.9, 0.62185], [366.4, 0.58767]];
// highlight boxes: [fromBar, toBar, lowPrice, highPrice]
const dailyBoxes = [[138.7, 159.6, 0.64614, 0.65344], [244.4, 265.3, 0.67884, 0.6861], [306.2, 327.2, 0.62622, 0.63344], [374, 394.9, 0.66477, 0.67199], [462.8, 483.8, 0.60867, 0.61595], [599.5, 620.4, 0.63682, 0.64422]];
const h4Boxes = [[28.8, 44.9, 0.6183, 0.62228], [78.8, 94.8, 0.6375, 0.6414], [187.7, 203.6, 0.60269, 0.60663], [289.5, 305.6, 0.61752, 0.62146]];
const dailyLastPrice = 0.59187;
const h4LastPrice = 0.59189;
const dailyHeader = "CADCHF,Daily  0.59380 0.59614 0.58920 0.59187";
const h4Header = "CADCHF,H4  0.59036 0.59442 0.58972 0.59189";

// ---------------- layout ----------------
const W = 3358;
const H = 3686;
const DAILY_SLOTS = 815;
const H4_SLOTS = 408;
const NARROW_FONT = "22px 'Liberation Sans', Arial, sans-serif";
const NARROW_SCALE = 0.82;
const PRICE_FONT = "'DejaVu Sans', Verdana, sans-serif";
const PRICE_SIZE = 17.5;
const BOX_COLOR = "#FCDAA6";
const BULL = "#0000FF";
const BEAR = "#FF0000";
const DAILY_DATE_Y = 1821;
const H4_DATE_Y = 3672;

const toPrice = (rows: number[][]) => rows.map((r) => r.map((v) => v / 10000));

function buildOption() {
  const daily = toPrice([...dailyBars2022, ...dailyBars2023, ...dailyBars2024, ...dailyBars2025]);
  const h4 = toPrice([...h4BarsJanFeb, ...h4BarsMar, ...h4BarsApr]);
  const dailyCats = Array.from({ length: DAILY_SLOTS }, (_, i) => String(i));
  const h4Cats = Array.from({ length: H4_SLOTS }, (_, i) => String(i));

  const dateAxis = (gridIndex: number, cats: string[], step: number, labels: string[]) => ({
    type: "category",
    gridIndex,
    data: cats,
    boundaryGap: true,
    position: "bottom",
    axisLine: { show: false },
    splitLine: { show: false },
    axisTick: {
      show: true,
      alignWithLabel: true,
      length: 5,
      interval: (i: number) => i % step === 0 && i / step < labels.length,
      lineStyle: { color: "#000", width: 1 },
    },
    axisLabel: { show: false, interval: (i: number) => i % step === 0 && i / step < labels.length },
  });

  const priceAxis = (gridIndex: number, min: number, max: number, ticks: number[], lineColor: string, lineWidth: number) => ({
    type: "value",
    gridIndex,
    position: "right",
    min,
    max,
    scale: true,
    splitLine: { show: false },
    axisLine: { show: true, lineStyle: { color: lineColor, width: lineWidth } },
    axisTick: { show: true, length: 4, inside: false, customValues: ticks, lineStyle: { color: "#000" } },
    axisLabel: {
      show: true,
      customValues: ticks,
      formatter: (v: number) => v.toFixed(5),
      margin: 3,
      align: "left",
      color: "#000",
      fontSize: PRICE_SIZE,
      fontFamily: PRICE_FONT,
    },
  });

  const candle = (xi: number, yi: number, data: number[][], bw: number) => ({
    type: "candlestick",
    xAxisIndex: xi,
    yAxisIndex: yi,
    data,
    barWidth: bw,
    large: false,
    clip: true,
    z: 3,
    silent: true,
    itemStyle: { color: BULL, color0: BEAR, borderColor: BULL, borderColor0: BEAR, borderWidth: 1 },
  });

  const lastPriceLine = (xi: number, yi: number, slots: number, price: number) => ({
    type: "line",
    xAxisIndex: xi,
    yAxisIndex: yi,
    data: [[-0.5, price], [slots - 0.5, price]],
    symbol: "none",
    silent: true,
    clip: false,
    z: 2,
    lineStyle: { color: "#8c9db0", width: 1 },
    endLabel: {
      show: true,
      distance: 3,
      formatter: () => price.toFixed(5),
      color: "#fff",
      backgroundColor: "#000",
      fontFamily: PRICE_FONT,
      fontSize: PRICE_SIZE,
      padding: [4, 5, 3, 5],
    },
  });

  const trend = (xi: number, yi: number, pts: number[][], boxes?: number[][]) => ({
    type: "line",
    xAxisIndex: xi,
    yAxisIndex: yi,
    data: pts,
    symbol: "none",
    silent: true,
    clip: true,
    z: 5,
    lineStyle: { color: "#000", width: 3 },
    ...(boxes
      ? {
          markArea: {
            silent: true,
            z: 1,
            itemStyle: { color: BOX_COLOR, borderWidth: 0 },
            data: boxes.map((b) => [{ coord: [b[0], b[3]] }, { coord: [b[1], b[2]] }]),
          },
        }
      : {}),
  });

  return {
    animation: false,
    backgroundColor: "#ffffff",
    grid: [
      { left: 1, top: 2, width: 3266, height: 1805, show: true, borderColor: "#000", borderWidth: 1, backgroundColor: "#fff" },
      { left: 1, top: 1852, width: 3266, height: 1808, show: true, borderColor: "#000", borderWidth: 1, backgroundColor: "#fff" },
    ],
    xAxis: [
      dateAxis(0, dailyCats, DAILY_LABEL_STEP, dailyDateLabels),
      { type: "value", gridIndex: 0, min: -0.5, max: DAILY_SLOTS - 0.5, show: false, position: "top" },
      dateAxis(1, h4Cats, H4_LABEL_STEP, h4DateLabels),
      { type: "value", gridIndex: 1, min: -0.5, max: H4_SLOTS - 0.5, show: false, position: "top" },
    ],
    yAxis: [
      priceAxis(0, 0.585474, 0.750375, dailyPriceTicks, "#000", 1),
      priceAxis(1, 0.58086, 0.64974, h4PriceTicks, "#7a7a7a", 2),
    ],
    series: [
      lastPriceLine(1, 0, DAILY_SLOTS, dailyLastPrice),
      trend(1, 0, dailyUpperLine, dailyBoxes),
      trend(1, 0, dailyLowerLine),
      candle(0, 0, daily, 2),
      lastPriceLine(3, 1, H4_SLOTS, h4LastPrice),
      trend(3, 1, h4UpperLine, h4Boxes),
      trend(3, 1, h4LowerLine),
      candle(2, 1, h4, 5),
    ],
    graphic: [
      { id: "tri1", type: "polygon", silent: true, shape: { points: [[6, 13], [18, 13], [12, 20]] }, style: { fill: "#000" } },
      { id: "hdr1", type: "text", silent: true, x: 30, y: 17, scaleX: NARROW_SCALE, style: { text: dailyHeader, font: NARROW_FONT, fill: "#000", textVerticalAlign: "middle", verticalAlign: "middle" } },
      { id: "tri2", type: "polygon", silent: true, shape: { points: [[6, 1862], [18, 1862], [12, 1869]] }, style: { fill: "#000" } },
      { id: "hdr2", type: "text", silent: true, x: 30, y: 1866, scaleX: NARROW_SCALE, style: { text: h4Header, font: NARROW_FONT, fill: "#000", textVerticalAlign: "middle", verticalAlign: "middle" } },
      { id: "ttl1", type: "text", silent: true, z: 20, x: 1669, y: 355, style: { text: "CADCHF: Daily Timeframe", font: "bold 84px Lato", fill: "#000", textVerticalAlign: "middle", verticalAlign: "middle" } },
      { id: "ttl2", type: "text", silent: true, z: 20, x: 1744, y: 2078, style: { text: "CADCHF: 4-hour Timeframe", font: "bold 84px Lato", fill: "#000", textVerticalAlign: "middle", verticalAlign: "middle" } },
    ],
  };
}

function dateLabelGraphics(chart: echarts.ECharts) {
  const out: any[] = [];
  const add = (labels: string[], step: number, xAxisIndex: number, y: number, prefix: string) => {
    labels.forEach((t, k) => {
      const x = chart.convertToPixel({ xAxisIndex } as any, k * step) as unknown as number;
      out.push({
        id: prefix + k,
        type: "text",
        silent: true,
        x: x + 1,
        y,
        scaleX: NARROW_SCALE,
        style: { text: t, font: NARROW_FONT, fill: "#000", textVerticalAlign: "middle", verticalAlign: "middle" },
      });
    });
  };
  add(dailyDateLabels, DAILY_LABEL_STEP, 0, DAILY_DATE_Y, "dd");
  add(h4DateLabels, H4_LABEL_STEP, 2, H4_DATE_Y, "hd");
  return out;
}

export default function App() {
  const ref = useRef<HTMLDivElement>(null);
  useEffect(() => {
    if (!ref.current) return;
    const chart = echarts.init(ref.current, undefined, { renderer: "svg", width: W, height: H });
    const option: any = buildOption();
    chart.setOption(option);
    chart.setOption({ graphic: [...option.graphic, ...dateLabelGraphics(chart)] });
    return () => chart.dispose();
  }, []);
  return <div ref={ref} style={{ position: "absolute", left: 0, top: 0, width: W, height: H, background: "#fff" }} />;
}
